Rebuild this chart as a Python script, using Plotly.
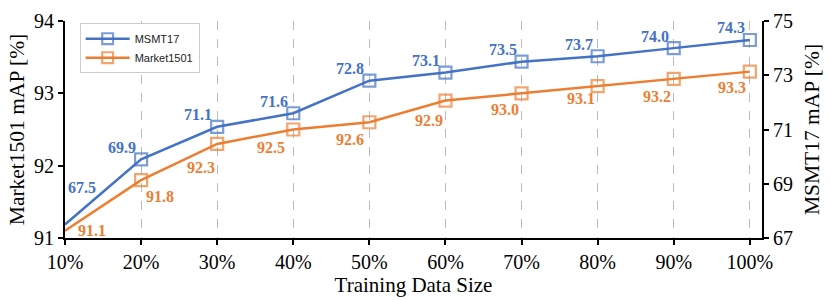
import plotly.graph_objects as go

x_vals = [10, 20, 30, 40, 50, 60, 70, 80, 90, 100]
x_labels = ["10%", "20%", "30%", "40%", "50%", "60%", "70%", "80%", "90%", "100%"]
msmt = [67.5, 69.9, 71.1, 71.6, 72.8, 73.1, 73.5, 73.7, 74.0, 74.3]
market = [91.1, 91.8, 92.3, 92.5, 92.6, 92.9, 93.0, 93.1, 93.2, 93.3]

BLUE = "#4472C4"
ORANGE = "#ED7D31"
SERIF = "Liberation Serif"

# label offsets (px) – styling only
msmt_off = [(17, 37)] + [(-19, 12)] * 9
market_off = [(27, 0), (19, -16), (-16, -24), (-22, -18), (-19, -17),
              (-16, -20), (-17, -16), (-17, -12), (-17, -18), (-18, -16)]

msize = [0] + [12] * 9

fig = go.Figure()
fig.add_trace(go.Scatter(
    x=x_vals, y=msmt, name="MSMT17", yaxis="y2", mode="lines+markers",
    line=dict(color=BLUE, width=2.5),
    marker=dict(symbol="square-open", size=msize, color=BLUE, line=dict(width=2.2, color=BLUE)),
    cliponaxis=False,
))
fig.add_trace(go.Scatter(
    x=x_vals, y=market, name="Market1501", yaxis="y", mode="lines+markers",
    line=dict(color=ORANGE, width=2.5),
    marker=dict(symbol="square-open", size=msize, color=ORANGE, line=dict(width=2.2, color=ORANGE)),
    cliponaxis=False,
))

annos = []
for xv, v, (dx, dy) in zip(x_vals, msmt, msmt_off):
    annos.append(dict(x=xv, y=v, xref="x", yref="y2", text=f"{v:.1f}", showarrow=False,
                      xshift=dx, yshift=dy,
                      font=dict(family=SERIF, size=16, color=BLUE, weight="bold")))
for xv, v, (dx, dy) in zip(x_vals, market, market_off):
    annos.append(dict(x=xv, y=v, xref="x", yref="y", text=f"{v:.1f}", showarrow=False,
                      xshift=dx, yshift=dy,
                      font=dict(family=SERIF, size=16, color=ORANGE, weight="bold")))

fig.update_layout(
    width=830, height=300,
    margin=dict(l=65, r=67, t=10, b=60),
    plot_bgcolor="white", paper_bgcolor="white",
    font=dict(family=SERIF, size=20, color="black"),
    showlegend=True,
    legend=dict(x=0.021, y=0.99, xanchor="left", yanchor="top",
                bgcolor="white", bordercolor="#cccccc", borderwidth=1,
                font=dict(family="Liberation Sans", size=11, color="#222222"),
                itemwidth=44, tracegroupgap=0),
    annotations=annos,
    xaxis=dict(
        range=[10, 101.6], tickmode="array", tickvals=x_vals, ticktext=x_labels,
        showgrid=True, gridcolor="#bbbbbb", griddash="dash", gridwidth=1.3,
        showline=True, linecolor="black", linewidth=2,
        ticks="outside", ticklen=5, tickwidth=1.5, tickcolor="black",
        zeroline=False, ticklabeloverflow="allow",
        tickfont=dict(family=SERIF, size=20),
        title=dict(text="Training Data Size", font=dict(family=SERIF, size=21), standoff=2),
    ),
    yaxis=dict(
        range=[91, 94], tickvals=[91, 92, 93, 94], showgrid=False,
        showline=True, linecolor="black", linewidth=2,
        ticks="outside", ticklen=5, tickwidth=1.5, tickcolor="black",
        zeroline=False, ticklabeloverflow="allow",
        tickfont=dict(family=SERIF, size=20),
        title=dict(text="Market1501 mAP [%]", font=dict(family=SERIF, size=21.5), standoff=3),
    ),
    yaxis2=dict(
        range=[67, 75], tickvals=[67, 69, 71, 73, 75], overlaying="y", side="right",
        showgrid=False, showline=True, linecolor="black", linewidth=2,
        ticks="outside", ticklen=5, tickwidth=1.5, tickcolor="black",
        zeroline=False, ticklabeloverflow="allow",
        tickfont=dict(family=SERIF, size=20),
        title=dict(text="MSMT17 mAP [%]", font=dict(family=SERIF, size=21.5), standoff=12),
    ),
)

fig.write_html("out.html", config={"displayModeBar": False},
               post_script="document.body.style.margin='0';document.body.style.overflow='hidden';")
